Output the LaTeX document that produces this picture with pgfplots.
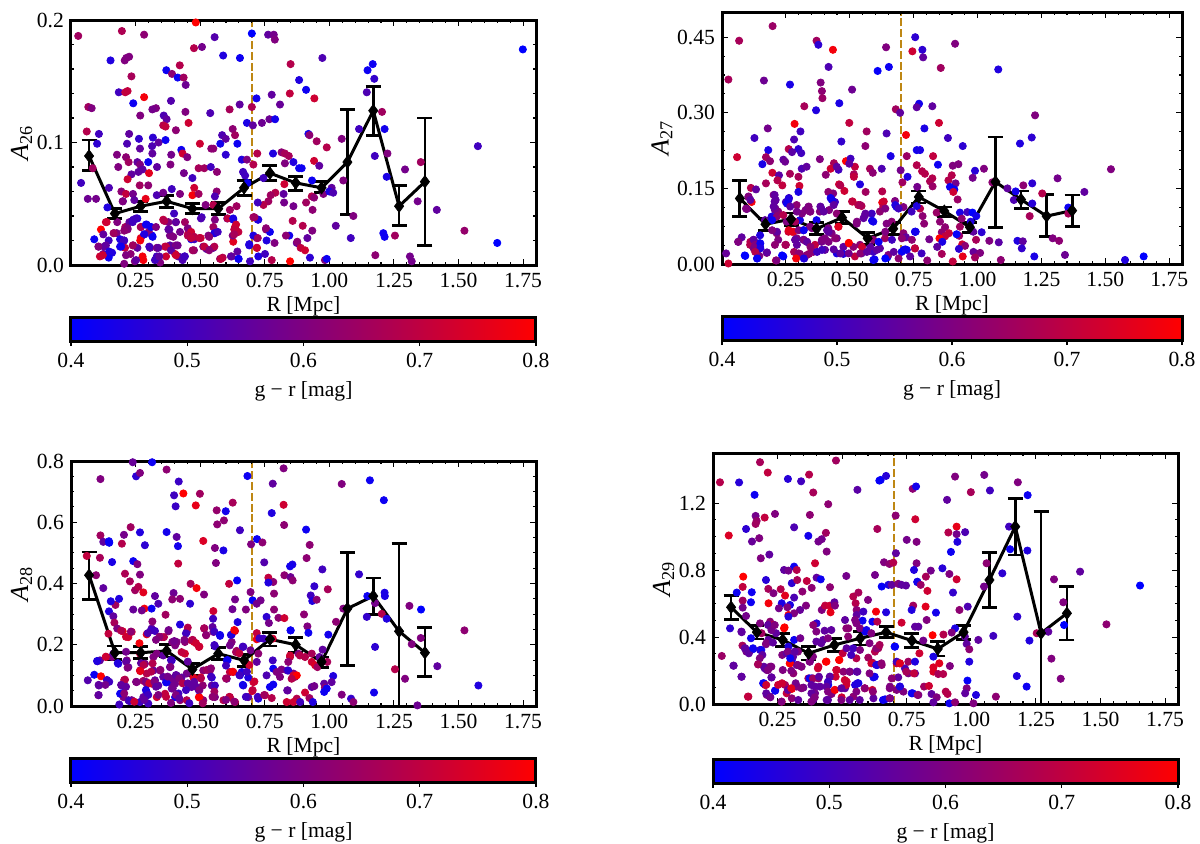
\documentclass[border=0pt]{standalone}
\usepackage{fontspec}
\usepackage{pgfplots}
\usepackage{pgfplotstable}
\pgfplotsset{compat=1.18}
\setmainfont{Liberation Serif}
\definecolor{dline}{RGB}{190,135,20}
\newcommand{\lblfont}{\fontsize{10.8}{12}\selectfont}

% scatter points: R, A, g-r
\pgfplotstableread{
R A c
0.028 0.187 0.65
0.197 0.191 0.67
0.283 0.188 0.62
0.483 0.198 0.80
0.556 0.186 0.53
0.476 0.177 0.68
0.507 0.178 0.58
0.589 0.171 0.45
0.654 0.169 0.42
0.700 0.189 0.40
0.763 0.188 0.55
0.785 0.188 0.58
0.789 0.184 0.60
0.850 0.164 0.68
0.883 0.151 0.45
0.153 0.167 0.45
0.208 0.167 0.60
0.225 0.170 0.60
0.214 0.169 0.60
0.234 0.154 0.66
0.185 0.141 0.50
0.210 0.141 0.70
0.219 0.142 0.70
0.241 0.132 0.42
0.283 0.137 0.78
0.369 0.159 0.42
0.391 0.156 0.62
0.413 0.153 0.42
0.421 0.163 0.68
0.436 0.153 0.65
0.444 0.147 0.57
0.387 0.134 0.53
0.443 0.125 0.60
0.539 0.124 0.52
0.614 0.127 0.66
0.653 0.131 0.55
0.718 0.136 0.43
0.777 0.139 0.55
0.809 0.131 0.56
0.847 0.140 0.70
0.700 0.129 0.67
0.681 0.116 0.44
0.704 0.114 0.55
0.739 0.116 0.57
0.768 0.119 0.57
0.790 0.119 0.43
0.067 0.129 0.65
0.080 0.128 0.60
0.108 0.107 0.50
0.061 0.109 0.68
0.101 0.099 0.47
0.039 0.067 0.50
0.065 0.054 0.57
0.097 0.054 0.58
0.084 0.079 0.65
0.147 0.063 0.52
0.178 0.090 0.60
0.141 0.047 0.45
0.225 0.107 0.55
0.217 0.099 0.52
0.213 0.088 0.62
0.223 0.084 0.65
0.263 0.103 0.48
0.267 0.095 0.55
0.317 0.104 0.47
0.339 0.100 0.55
0.314 0.097 0.52
0.315 0.091 0.55
0.299 0.084 0.42
0.257 0.084 0.55
0.267 0.082 0.60
0.183 0.080 0.60
0.234 0.074 0.55
0.219 0.070 0.72
0.261 0.076 0.55
0.277 0.078 0.55
0.302 0.075 0.75
0.333 0.080 0.55
0.266 0.065 0.65
0.299 0.065 0.62
0.195 0.060 0.62
0.213 0.058 0.70
0.240 0.058 0.58
0.201 0.052 0.55
0.289 0.054 0.76
0.332 0.057 0.52
0.357 0.059 0.58
0.390 0.062 0.50
0.385 0.082 0.60
0.388 0.090 0.58
0.366 0.102 0.42
0.359 0.122 0.52
0.370 0.119 0.55
0.329 0.128 0.60
0.315 0.127 0.58
0.268 0.122 0.60
0.357 0.114 0.68
0.366 0.113 0.70
0.406 0.110 0.62
0.455 0.116 0.72
0.427 0.094 0.42
0.432 0.091 0.72
0.450 0.088 0.60
0.437 0.075 0.58
0.499 0.099 0.72
0.494 0.079 0.66
0.516 0.079 0.65
0.470 0.071 0.50
0.477 0.063 0.72
0.470 0.057 0.78
0.422 0.058 0.60
0.494 0.058 0.65
0.541 0.080 0.50
0.565 0.076 0.62
0.543 0.095 0.62
0.551 0.095 0.62
0.578 0.099 0.43
0.585 0.106 0.52
0.599 0.103 0.55
0.599 0.090 0.47
0.626 0.111 0.62
0.635 0.106 0.65
0.644 0.099 0.42
0.661 0.086 0.45
0.681 0.086 0.60
0.666 0.076 0.50
0.674 0.073 0.50
0.706 0.082 0.68
0.683 0.067 0.42
0.564 0.060 0.62
0.557 0.056 0.52
0.641 0.048 0.65
0.615 0.045 0.65
0.521 0.049 0.60
0.551 0.049 0.68
0.721 0.091 0.68
0.782 0.091 0.45
0.815 0.092 0.62
0.828 0.091 0.66
0.843 0.089 0.66
0.861 0.084 0.45
0.883 0.079 0.42
0.828 0.083 0.60
0.745 0.071 0.50
0.826 0.066 0.72
0.791 0.059 0.68
0.773 0.057 0.65
0.823 0.058 0.55
0.764 0.052 0.65
0.745 0.049 0.68
0.723 0.051 0.50
0.825 0.051 0.58
0.861 0.048 0.58
0.138 0.035 0.72
0.116 0.029 0.80
0.090 0.021 0.42
0.125 0.025 0.55
0.146 0.020 0.50
0.107 0.015 0.60
0.135 0.016 0.55
0.159 0.010 0.45
0.112 0.007 0.72
0.146 0.006 0.42
0.125 0.009 0.58
0.166 0.026 0.60
0.177 0.026 0.60
0.190 0.021 0.45
0.205 0.020 0.55
0.209 0.014 0.70
0.190 0.015 0.45
0.219 0.029 0.62
0.210 0.031 0.65
0.179 0.035 0.60
0.226 0.035 0.55
0.257 0.038 0.45
0.241 0.037 0.50
0.270 0.031 0.68
0.270 0.022 0.75
0.293 0.033 0.45
0.308 0.031 0.43
0.314 0.024 0.42
0.283 0.025 0.45
0.301 0.027 0.60
0.241 0.016 0.60
0.257 0.014 0.55
0.280 0.004 0.78
0.306 0.014 0.55
0.231 0.009 0.62
0.213 0.008 0.60
0.332 0.014 0.60
0.332 0.007 0.50
0.357 0.037 0.70
0.377 0.035 0.60
0.406 0.035 0.62
0.399 0.042 0.50
0.377 0.029 0.55
0.396 0.023 0.60
0.383 0.024 0.58
0.422 0.027 0.58
0.441 0.035 0.65
0.454 0.026 0.70
0.467 0.024 0.72
0.465 0.021 0.43
0.477 0.021 0.50
0.506 0.039 0.50
0.502 0.022 0.72
0.532 0.024 0.60
0.557 0.037 0.60
0.557 0.026 0.50
0.551 0.031 0.65
0.512 0.015 0.60
0.551 0.014 0.55
0.525 0.013 0.55
0.476 0.012 0.62
0.364 0.015 0.70
0.383 0.016 0.55
0.406 0.016 0.60
0.403 0.009 0.72
0.368 0.007 0.72
0.441 0.007 0.50
0.415 0.007 0.55
0.432 0.004 0.52
0.345 0.002 0.60
0.325 0.004 0.50
0.577 0.005 0.65
0.587 0.006 0.68
0.622 0.007 0.62
0.648 0.005 0.42
0.644 0.011 0.55
0.628 0.019 0.75
0.605 0.038 0.50
0.628 0.037 0.44
0.635 0.031 0.72
0.648 0.027 0.70
0.626 0.024 0.60
0.690 0.017 0.45
0.719 0.014 0.75
0.719 0.022 0.65
0.706 0.024 0.45
0.725 0.037 0.45
0.706 0.039 0.65
0.755 0.029 0.62
0.770 0.027 0.42
0.757 0.020 0.45
0.788 0.018 0.60
0.725 0.007 0.45
0.751 0.009 0.50
0.777 0.004 0.68
0.848 0.003 0.80
0.693 0.003 0.50
0.858 0.036 0.68
0.845 0.024 0.43
0.832 0.024 0.62
0.874 0.018 0.55
0.247 0.003 0.60
0.910 0.143 0.42
0.942 0.136 0.72
0.973 0.169 0.52
0.919 0.107 0.42
0.923 0.106 0.62
0.951 0.101 0.65
0.990 0.096 0.68
0.941 0.085 0.72
0.961 0.081 0.55
0.893 0.079 0.42
0.933 0.069 0.42
0.910 0.051 0.65
0.932 0.056 0.68
0.941 0.055 0.62
0.935 0.045 0.62
0.897 0.032 0.68
0.934 0.028 0.60
0.915 0.022 0.55
0.876 0.019 0.62
0.889 0.014 0.70
0.906 0.012 0.72
0.925 0.006 0.47
0.983 0.004 0.60
0.990 0.005 0.42
1.054 0.069 0.60
0.977 0.058 0.60
1.009 0.063 0.55
1.000 0.060 0.45
1.015 0.059 0.52
1.025 0.032 0.55
1.093 0.040 0.60
1.083 0.022 0.50
1.048 0.103 0.60
1.115 0.111 0.50
1.145 0.141 0.52
1.148 0.159 0.42
1.168 0.164 0.42
1.174 0.152 0.48
1.204 0.125 0.65
1.214 0.111 0.43
1.176 0.089 0.50
1.225 0.091 0.60
1.222 0.072 0.44
1.209 0.026 0.42
1.214 0.023 0.42
1.254 0.024 0.65
1.178 0.008 0.62
1.293 0.078 0.58
1.354 0.084 0.65
1.342 0.052 0.58
1.416 0.045 0.55
1.523 0.028 0.63
1.575 0.097 0.50
1.650 0.018 0.40
1.749 0.176 0.40
1.312 0.007 0.58
1.319 0.003 0.58
0.200 0.052 0.60
0.245 0.053 0.55
0.135 0.035 0.72
0.165 0.026 0.65
0.219 0.030 0.60
0.206 0.028 0.62
0.252 0.038 0.50
0.239 0.035 0.50
0.271 0.031 0.66
0.290 0.033 0.42
0.310 0.031 0.42
0.316 0.023 0.42
0.284 0.025 0.45
0.268 0.020 0.78
0.329 0.031 0.60
0.361 0.036 0.68
0.387 0.024 0.60
0.381 0.029 0.55
0.406 0.035 0.55
0.452 0.030 0.60
0.465 0.027 0.72
0.477 0.023 0.68
0.503 0.038 0.52
0.555 0.026 0.45
0.568 0.027 0.50
0.606 0.038 0.70
0.628 0.038 0.44
0.639 0.033 0.72
0.632 0.029 0.70
0.632 0.025 0.66
0.129 0.015 0.55
0.106 0.015 0.60
0.206 0.020 0.50
0.194 0.015 0.42
0.148 0.011 0.45
0.123 0.008 0.72
0.239 0.016 0.65
0.303 0.015 0.50
0.338 0.014 0.55
0.368 0.015 0.70
0.413 0.016 0.58
0.387 0.012 0.55
0.342 0.007 0.55
0.406 0.008 0.72
0.439 0.007 0.50
0.471 0.012 0.65
0.516 0.015 0.70
0.555 0.015 0.68
0.535 0.012 0.62
0.581 0.005 0.70
0.619 0.007 0.55
0.649 0.005 0.42
0.690 0.016 0.45
0.720 0.014 0.72
0.723 0.022 0.65
0.755 0.030 0.62
0.723 0.037 0.45
0.710 0.039 0.65
0.452 0.024 0.68
0.465 0.022 0.70
0.497 0.022 0.70
0.535 0.023 0.62
0.277 0.007 0.78
0.252 0.004 0.55
0.206 0.001 0.60
}\scatterA

\pgfplotstableread{
R A c
0.025 0.366 0.66
0.067 0.443 0.66
0.198 0.472 0.64
0.164 0.364 0.57
0.370 0.443 0.65
0.377 0.435 0.47
0.434 0.425 0.78
0.417 0.391 0.52
0.386 0.360 0.60
0.391 0.343 0.62
0.393 0.329 0.64
0.266 0.356 0.44
0.509 0.346 0.57
0.459 0.319 0.44
0.368 0.305 0.45
0.322 0.313 0.66
0.609 0.383 0.41
0.653 0.391 0.42
0.642 0.430 0.60
0.680 0.307 0.65
0.697 0.300 0.55
0.756 0.450 0.47
0.745 0.422 0.72
0.127 0.250 0.50
0.179 0.269 0.58
0.284 0.278 0.78
0.307 0.263 0.50
0.282 0.247 0.52
0.261 0.228 0.68
0.299 0.228 0.47
0.181 0.226 0.44
0.274 0.222 0.54
0.310 0.220 0.50
0.059 0.212 0.72
0.172 0.212 0.65
0.188 0.204 0.62
0.158 0.198 0.44
0.240 0.207 0.55
0.247 0.203 0.57
0.498 0.280 0.70
0.566 0.263 0.65
0.644 0.259 0.52
0.720 0.256 0.78
0.561 0.234 0.62
0.467 0.243 0.48
0.660 0.214 0.44
0.723 0.214 0.64
0.762 0.226 0.43
0.485 0.204 0.80
0.503 0.209 0.50
0.383 0.208 0.60
0.438 0.200 0.66
0.425 0.189 0.72
0.456 0.187 0.50
0.449 0.193 0.55
0.520 0.193 0.70
0.498 0.199 0.55
0.579 0.189 0.66
0.590 0.181 0.62
0.625 0.189 0.52
0.699 0.186 0.58
0.762 0.196 0.68
0.406 0.177 0.62
0.312 0.189 0.52
0.331 0.193 0.55
0.266 0.179 0.66
0.299 0.173 0.66
0.303 0.155 0.72
0.197 0.181 0.72
0.223 0.176 0.54
0.172 0.160 0.66
0.217 0.166 0.68
0.236 0.156 0.70
0.479 0.145 0.72
0.458 0.158 0.72
0.463 0.156 0.68
0.516 0.178 0.66
0.516 0.173 0.70
0.540 0.158 0.45
0.706 0.162 0.65
0.726 0.173 0.45
0.113 0.151 0.68
0.133 0.148 0.55
0.103 0.133 0.60
0.116 0.123 0.78
0.097 0.109 0.58
0.299 0.143 0.44
0.435 0.140 0.60
0.416 0.143 0.62
0.425 0.131 0.43
0.442 0.123 0.50
0.511 0.124 0.74
0.562 0.143 0.65
0.627 0.144 0.68
0.533 0.117 0.68
0.546 0.115 0.68
0.202 0.137 0.60
0.210 0.127 0.55
0.260 0.127 0.47
0.250 0.123 0.50
0.262 0.131 0.52
0.292 0.117 0.62
0.327 0.107 0.60
0.338 0.113 0.55
0.344 0.104 0.62
0.387 0.112 0.52
0.383 0.104 0.60
0.419 0.107 0.60
0.449 0.100 0.62
0.627 0.122 0.78
0.631 0.113 0.68
0.618 0.104 0.62
0.677 0.125 0.60
0.683 0.113 0.43
0.710 0.113 0.60
0.207 0.107 0.55
0.220 0.104 0.62
0.194 0.094 0.45
0.168 0.087 0.55
0.214 0.094 0.62
0.240 0.097 0.68
0.305 0.087 0.44
0.370 0.087 0.43
0.286 0.084 0.66
0.253 0.084 0.60
0.455 0.074 0.72
0.416 0.071 0.60
0.344 0.074 0.60
0.318 0.067 0.52
0.279 0.064 0.77
0.260 0.064 0.72
0.214 0.061 0.62
0.220 0.048 0.60
0.207 0.038 0.62
0.149 0.057 0.45
0.146 0.041 0.44
0.123 0.048 0.55
0.064 0.044 0.55
0.077 0.053 0.55
0.110 0.038 0.68
0.136 0.024 0.70
0.149 0.034 0.45
0.175 0.022 0.62
0.146 0.016 0.60
0.138 0.011 0.42
0.091 0.016 0.40
0.016 0.021 0.56
0.025 0.001 0.72
0.240 0.015 0.41
0.211 0.007 0.70
0.286 0.048 0.55
0.292 0.051 0.60
0.318 0.048 0.50
0.331 0.044 0.55
0.250 0.038 0.66
0.282 0.024 0.66
0.305 0.020 0.60
0.322 0.011 0.50
0.340 0.020 0.66
0.364 0.038 0.70
0.357 0.024 0.62
0.390 0.044 0.58
0.403 0.051 0.60
0.403 0.028 0.55
0.449 0.051 0.58
0.429 0.061 0.60
0.475 0.034 0.55
0.497 0.041 0.78
0.514 0.034 0.62
0.449 0.021 0.44
0.475 0.020 0.45
0.520 0.015 0.70
0.540 0.038 0.62
0.546 0.021 0.55
0.592 0.048 0.62
0.592 0.084 0.43
0.592 0.024 0.50
0.618 0.031 0.55
0.592 0.008 0.42
0.647 0.013 0.41
0.651 0.018 0.60
0.638 0.051 0.65
0.664 0.084 0.62
0.710 0.061 0.62
0.720 0.053 0.55
0.755 0.064 0.43
0.755 0.031 0.65
0.723 0.028 0.42
0.703 0.024 0.42
0.736 0.015 0.55
0.586 0.100 0.50
0.527 0.080 0.60
0.560 0.097 0.55
0.644 0.080 0.60
0.784 0.425 0.47
0.787 0.410 0.55
0.912 0.437 0.60
0.856 0.389 0.65
1.081 0.386 0.45
0.823 0.313 0.55
0.771 0.318 0.43
1.225 0.295 0.60
0.762 0.311 0.55
0.849 0.280 0.72
0.792 0.269 0.44
0.884 0.250 0.50
0.942 0.234 0.47
1.212 0.251 0.47
1.166 0.239 0.45
0.775 0.226 0.44
0.826 0.214 0.70
0.845 0.197 0.42
0.903 0.195 0.60
0.925 0.198 0.60
0.990 0.185 0.46
1.025 0.189 0.60
1.522 0.188 0.60
0.783 0.184 0.68
0.794 0.179 0.68
0.823 0.170 0.68
0.814 0.164 0.67
0.824 0.154 0.64
0.899 0.176 0.68
0.886 0.166 0.68
0.914 0.160 0.58
0.981 0.171 0.58
0.764 0.153 0.58
0.892 0.153 0.42
0.909 0.148 0.41
0.905 0.143 0.72
1.313 0.170 0.58
1.117 0.150 0.55
1.058 0.162 0.62
1.179 0.156 0.62
1.214 0.160 0.47
1.149 0.144 0.43
1.142 0.127 0.52
1.418 0.143 0.55
1.253 0.140 0.68
1.214 0.120 0.46
0.922 0.128 0.64
1.355 0.112 0.42
1.355 0.100 0.66
0.775 0.110 0.68
0.762 0.115 0.45
0.742 0.104 0.50
0.785 0.095 0.62
0.840 0.102 0.64
0.853 0.084 0.62
0.791 0.080 0.62
0.873 0.073 0.62
0.860 0.063 0.62
0.888 0.061 0.70
0.873 0.055 0.70
0.931 0.102 0.44
0.960 0.103 0.50
0.980 0.102 0.40
0.995 0.095 0.43
0.938 0.090 0.62
0.931 0.074 0.65
0.973 0.084 0.45
0.983 0.064 0.55
1.016 0.063 0.47
0.928 0.056 0.64
0.918 0.059 0.41
1.204 0.095 0.66
0.758 0.064 0.45
0.811 0.049 0.58
0.851 0.051 0.80
0.862 0.044 0.44
0.842 0.034 0.55
0.994 0.048 0.66
1.046 0.046 0.60
1.083 0.043 0.54
1.156 0.046 0.45
1.177 0.045 0.55
1.173 0.031 0.48
1.294 0.051 0.60
1.319 0.046 0.62
0.940 0.039 0.72
0.951 0.036 0.62
0.927 0.030 0.47
0.984 0.024 0.56
1.010 0.022 0.60
0.942 0.015 0.76
0.860 0.020 0.66
0.755 0.031 0.70
0.781 0.021 0.50
0.803 0.007 0.62
1.091 0.008 0.62
1.222 0.015 0.44
1.342 0.018 0.57
1.577 0.008 0.45
1.650 0.015 0.40
0.903 0.005 0.70
0.990 0.013 0.65
0.063 0.044 0.60
0.089 0.017 0.40
0.111 0.044 0.68
0.124 0.048 0.55
0.130 0.038 0.60
0.150 0.041 0.42
0.124 0.031 0.60
0.150 0.031 0.45
0.130 0.024 0.68
0.137 0.011 0.42
0.176 0.023 0.55
0.235 0.017 0.40
0.213 0.007 0.60
0.206 0.137 0.55
0.206 0.124 0.55
0.209 0.110 0.58
0.202 0.114 0.55
0.104 0.134 0.60
0.111 0.127 0.55
0.094 0.110 0.60
0.196 0.087 0.42
0.215 0.064 0.55
0.196 0.067 0.60
0.261 0.130 0.45
0.254 0.120 0.42
0.267 0.114 0.55
0.313 0.100 0.60
0.293 0.104 0.58
0.339 0.114 0.60
0.346 0.104 0.60
0.385 0.114 0.55
0.398 0.104 0.55
0.430 0.127 0.43
0.437 0.117 0.55
0.509 0.124 0.70
0.541 0.117 0.66
0.561 0.100 0.55
0.554 0.091 0.55
0.528 0.084 0.60
0.587 0.086 0.43
0.633 0.124 0.72
0.639 0.110 0.60
0.678 0.117 0.45
0.691 0.110 0.50
0.261 0.067 0.75
0.274 0.064 0.75
0.300 0.067 0.60
0.320 0.067 0.42
0.352 0.071 0.60
0.411 0.067 0.55
0.456 0.074 0.75
0.248 0.038 0.66
0.287 0.048 0.55
0.320 0.048 0.60
0.333 0.044 0.55
0.293 0.038 0.55
0.346 0.034 0.62
0.391 0.048 0.60
0.417 0.064 0.55
0.417 0.044 0.60
0.443 0.051 0.62
0.496 0.042 0.80
0.548 0.034 0.72
0.580 0.034 0.55
0.613 0.044 0.42
0.639 0.064 0.60
0.665 0.048 0.50
0.704 0.051 0.62
0.743 0.048 0.62
0.756 0.064 0.43
0.711 0.028 0.40
0.717 0.029 0.42
0.639 0.011 0.40
0.597 0.009 0.42
0.496 0.021 0.58
0.463 0.021 0.55
0.437 0.029 0.55
0.391 0.028 0.50
0.372 0.024 0.50
0.333 0.018 0.62
0.300 0.021 0.62
0.320 0.011 0.45
0.290 0.011 0.78
0.541 0.021 0.62
0.567 0.024 0.55
0.606 0.028 0.55
0.672 0.024 0.55
0.691 0.011 0.62
}\scatterB

\pgfplotstableread{
R A c
0.065 0.084 0.53
0.090 0.102 0.42
0.116 0.097 0.80
0.108 0.067 0.55
0.106 0.035 0.60
0.061 0.490 0.70
0.097 0.427 0.62
0.112 0.484 0.66
0.114 0.741 0.60
0.114 0.557 0.65
0.125 0.536 0.55
0.147 0.538 0.42
0.148 0.533 0.41
0.159 0.470 0.44
0.125 0.385 0.55
0.172 0.330 0.65
0.154 0.342 0.45
0.186 0.350 0.45
0.147 0.309 0.45
0.164 0.293 0.55
0.168 0.272 0.66
0.179 0.253 0.60
0.145 0.236 0.70
0.102 0.146 0.50
0.112 0.149 0.55
0.135 0.160 0.72
0.159 0.160 0.60
0.183 0.138 0.45
0.164 0.171 0.55
0.197 0.530 0.68
0.205 0.559 0.58
0.231 0.584 0.65
0.252 0.750 0.47
0.267 0.761 0.60
0.239 0.796 0.56
0.314 0.796 0.42
0.267 0.567 0.45
0.286 0.525 0.47
0.241 0.473 0.42
0.257 0.463 0.60
0.209 0.432 0.67
0.228 0.407 0.66
0.267 0.429 0.60
0.248 0.378 0.65
0.261 0.389 0.68
0.280 0.371 0.75
0.325 0.359 0.55
0.338 0.334 0.52
0.241 0.315 0.56
0.284 0.318 0.78
0.274 0.312 0.58
0.312 0.318 0.42
0.366 0.298 0.65
0.370 0.568 0.43
0.370 0.772 0.62
0.417 0.733 0.49
0.399 0.688 0.50
0.405 0.652 0.49
0.435 0.694 0.80
0.499 0.693 0.65
0.483 0.655 0.76
0.409 0.552 0.55
0.414 0.522 0.43
0.512 0.539 0.74
0.415 0.465 0.70
0.463 0.399 0.66
0.486 0.385 0.78
0.397 0.369 0.57
0.392 0.348 0.62
0.422 0.350 0.62
0.461 0.334 0.47
0.515 0.364 0.60
0.557 0.516 0.60
0.561 0.467 0.60
0.564 0.639 0.63
0.566 0.593 0.62
0.599 0.636 0.43
0.592 0.606 0.62
0.626 0.664 0.66
0.654 0.574 0.50
0.590 0.508 0.44
0.612 0.399 0.70
0.643 0.410 0.41
0.635 0.348 0.58
0.625 0.316 0.57
0.677 0.315 0.60
0.645 0.274 0.45
0.551 0.310 0.72
0.550 0.285 0.50
0.683 0.751 0.42
0.697 0.528 0.60
0.720 0.545 0.42
0.741 0.534 0.62
0.748 0.469 0.53
0.695 0.372 0.60
0.703 0.345 0.41
0.719 0.334 0.58
0.734 0.345 0.58
0.786 0.367 0.62
0.764 0.419 0.70
0.783 0.405 0.62
0.764 0.403 0.45
0.781 0.726 0.55
0.823 0.776 0.60
0.823 0.657 0.72
0.777 0.630 0.45
0.825 0.591 0.62
0.826 0.427 0.62
0.857 0.462 0.44
0.848 0.456 0.43
0.850 0.421 0.57
0.858 0.410 0.62
0.786 0.315 0.62
0.757 0.291 0.47
0.766 0.271 0.58
0.803 0.288 0.62
0.826 0.287 0.72
0.850 0.247 0.44
0.719 0.238 0.70
0.200 0.244 0.75
0.222 0.225 0.73
0.235 0.242 0.72
0.293 0.234 0.75
0.312 0.253 0.55
0.325 0.245 0.50
0.315 0.276 0.62
0.351 0.225 0.65
0.360 0.225 0.68
0.377 0.244 0.62
0.392 0.209 0.60
0.409 0.209 0.60
0.422 0.266 0.45
0.441 0.209 0.62
0.448 0.242 0.55
0.452 0.256 0.68
0.467 0.214 0.70
0.477 0.209 0.75
0.495 0.193 0.72
0.515 0.253 0.65
0.523 0.231 0.65
0.551 0.242 0.60
0.548 0.258 0.55
0.577 0.229 0.43
0.557 0.195 0.50
0.622 0.233 0.44
0.635 0.245 0.74
0.622 0.209 0.60
0.641 0.180 0.65
0.667 0.193 0.50
0.615 0.198 0.58
0.719 0.218 0.78
0.745 0.220 0.50
0.781 0.220 0.72
0.719 0.144 0.55
0.725 0.171 0.62
0.695 0.182 0.58
0.781 0.149 0.50
0.783 0.122 0.42
0.757 0.100 0.52
0.796 0.111 0.60
0.815 0.119 0.60
0.809 0.095 0.60
0.837 0.116 0.55
0.861 0.106 0.60
0.848 0.160 0.68
0.880 0.171 0.60
0.867 0.095 0.65
0.770 0.062 0.42
0.783 0.070 0.42
0.839 0.051 0.55
0.751 0.035 0.72
0.777 0.026 0.68
0.725 0.024 0.44
0.686 0.029 0.55
0.706 0.078 0.72
0.686 0.093 0.45
0.702 0.049 0.75
0.667 0.067 0.48
0.654 0.100 0.42
0.661 0.111 0.45
0.628 0.111 0.72
0.603 0.149 0.45
0.615 0.111 0.70
0.603 0.089 0.58
0.538 0.116 0.62
0.512 0.116 0.62
0.545 0.093 0.45
0.510 0.067 0.62
0.545 0.067 0.55
0.557 0.067 0.50
0.615 0.029 0.68
0.590 0.019 0.68
0.557 0.029 0.60
0.502 0.093 0.75
0.474 0.093 0.75
0.495 0.029 0.80
0.495 0.051 0.50
0.467 0.062 0.55
0.448 0.106 0.58
0.428 0.093 0.55
0.409 0.100 0.55
0.383 0.078 0.55
0.390 0.057 0.55
0.364 0.040 0.70
0.370 0.078 0.42
0.357 0.095 0.55
0.345 0.116 0.60
0.325 0.084 0.55
0.319 0.116 0.57
0.293 0.106 0.68
0.280 0.082 0.65
0.254 0.078 0.60
0.209 0.086 0.68
0.222 0.127 0.55
0.216 0.149 0.60
0.267 0.171 0.70
0.267 0.116 0.70
0.286 0.138 0.60
0.319 0.160 0.60
0.332 0.171 0.60
0.357 0.165 0.55
0.383 0.127 0.55
0.390 0.149 0.47
0.441 0.171 0.72
0.428 0.176 0.70
0.403 0.198 0.60
0.196 0.067 0.55
0.209 0.062 0.50
0.190 0.040 0.42
0.203 0.029 0.60
0.222 0.019 0.55
0.235 0.019 0.58
0.267 0.013 0.50
0.293 0.046 0.44
0.280 0.029 0.55
0.299 0.008 0.50
0.332 0.029 0.72
0.403 0.029 0.43
0.422 0.019 0.62
0.403 0.073 0.58
0.416 0.041 0.50
0.448 0.019 0.68
0.512 0.019 0.62
0.635 0.013 0.68
0.312 0.073 0.72
0.338 0.067 0.55
0.293 0.073 0.62
1.048 0.725 0.60
1.157 0.737 0.42
1.211 0.672 0.42
0.910 0.576 0.42
0.924 0.526 0.62
0.912 0.483 0.62
0.973 0.446 0.50
1.115 0.430 0.48
0.942 0.391 0.48
0.994 0.381 0.66
0.928 0.361 0.50
0.934 0.343 0.45
0.951 0.347 0.62
1.214 0.370 0.44
1.215 0.359 0.44
1.147 0.359 0.42
1.177 0.336 0.58
1.054 0.318 0.60
1.310 0.327 0.60
1.355 0.315 0.40
0.902 0.299 0.62
1.203 0.301 0.68
1.145 0.291 0.48
1.222 0.285 0.45
1.026 0.275 0.62
0.915 0.260 0.60
0.850 0.247 0.42
0.919 0.239 0.42
0.996 0.233 0.43
1.523 0.247 0.62
1.354 0.222 0.60
1.319 0.202 0.60
1.177 0.193 0.47
0.974 0.184 0.55
0.932 0.171 0.66
0.886 0.165 0.68
0.906 0.160 0.68
0.848 0.165 0.72
0.962 0.160 0.55
0.992 0.144 0.66
0.841 0.144 0.62
0.932 0.144 0.72
0.945 0.133 0.74
0.954 0.127 0.65
1.254 0.120 0.68
1.418 0.130 0.55
0.841 0.116 0.47
0.861 0.100 0.72
0.874 0.100 0.80
0.854 0.089 0.68
1.015 0.098 0.45
1.293 0.089 0.60
1.009 0.078 0.55
0.932 0.062 0.55
0.942 0.065 0.58
0.980 0.073 0.55
0.983 0.060 0.62
0.990 0.057 0.42
0.980 0.046 0.42
0.837 0.051 0.55
0.906 0.044 0.72
0.923 0.026 0.65
1.048 0.037 0.60
1.084 0.024 0.48
1.093 0.013 0.62
1.173 0.044 0.43
1.577 0.067 0.45
1.341 0.002 0.57
0.874 0.024 0.68
0.861 0.013 0.72
0.835 0.013 0.72
0.936 0.013 0.45
0.887 0.013 0.50
0.194 0.246 0.68
0.213 0.226 0.72
0.232 0.243 0.62
0.310 0.248 0.50
0.297 0.238 0.52
0.378 0.248 0.58
0.342 0.226 0.62
0.329 0.216 0.60
0.400 0.212 0.58
0.445 0.237 0.50
0.439 0.216 0.60
0.471 0.216 0.68
0.484 0.205 0.72
0.497 0.194 0.72
0.516 0.254 0.66
0.523 0.232 0.62
0.555 0.199 0.50
0.555 0.243 0.50
0.577 0.232 0.43
0.619 0.232 0.45
0.632 0.248 0.78
0.639 0.176 0.66
0.652 0.172 0.70
0.665 0.194 0.50
0.729 0.221 0.50
0.265 0.205 0.78
0.135 0.161 0.72
0.101 0.147 0.45
0.181 0.140 0.45
0.213 0.145 0.55
0.219 0.125 0.60
0.213 0.177 0.58
0.271 0.140 0.55
0.281 0.134 0.68
0.316 0.139 0.68
0.310 0.112 0.68
0.268 0.114 0.76
0.346 0.118 0.62
0.387 0.150 0.50
0.385 0.128 0.60
0.452 0.145 0.55
0.526 0.118 0.65
0.542 0.123 0.62
0.606 0.150 0.42
0.600 0.132 0.50
0.626 0.112 0.78
0.652 0.101 0.50
0.681 0.112 0.50
0.690 0.134 0.72
0.542 0.096 0.50
0.600 0.090 0.65
0.665 0.069 0.43
0.710 0.080 0.72
0.703 0.052 0.70
0.139 0.085 0.50
0.148 0.079 0.50
0.133 0.069 0.58
0.107 0.069 0.55
0.107 0.036 0.55
0.206 0.085 0.68
0.194 0.069 0.55
0.213 0.063 0.55
0.194 0.041 0.42
0.206 0.041 0.62
0.252 0.079 0.60
0.290 0.079 0.60
0.303 0.074 0.72
0.323 0.079 0.60
0.329 0.063 0.55
0.338 0.036 0.60
0.290 0.052 0.45
0.299 0.036 0.50
0.368 0.077 0.42
0.374 0.096 0.58
0.394 0.090 0.58
0.406 0.101 0.55
0.419 0.090 0.60
0.432 0.074 0.68
0.452 0.074 0.55
0.477 0.079 0.55
0.484 0.063 0.55
0.503 0.090 0.68
0.445 0.052 0.50
0.497 0.052 0.60
0.497 0.028 0.80
0.406 0.036 0.60
0.368 0.030 0.70
0.419 0.025 0.55
0.394 0.058 0.58
0.555 0.047 0.65
0.548 0.030 0.62
0.613 0.030 0.70
0.600 0.020 0.60
0.632 0.014 0.62
0.677 0.030 0.50
0.723 0.030 0.50
0.748 0.036 0.65
0.226 0.016 0.50
0.245 0.014 0.72
0.284 0.020 0.55
0.187 0.005 0.50
0.387 0.010 0.60
0.458 0.009 0.50
0.510 0.009 0.65
}\scatterC

\pgfplotstableread{
R A c
0.027 1.325 0.68
0.182 1.445 0.66
0.212 1.383 0.70
0.101 1.324 0.46
0.290 1.345 0.46
0.341 1.331 0.50
0.372 1.371 0.68
0.388 1.264 0.66
0.476 1.455 0.65
0.559 1.280 0.54
0.446 1.194 0.62
0.161 1.250 0.42
0.240 1.136 0.60
0.165 1.124 0.58
0.200 1.114 0.70
0.169 1.094 0.63
0.165 1.076 0.65
0.128 1.046 0.47
0.314 1.056 0.52
0.375 1.130 0.62
0.061 1.007 0.74
0.369 1.005 0.43
0.179 0.991 0.60
0.151 0.971 0.56
0.437 1.023 0.65
0.421 0.985 0.58
0.408 0.971 0.58
0.440 0.911 0.60
0.218 0.893 0.55
0.185 0.871 0.60
0.644 1.335 0.41
0.649 1.339 0.41
0.670 1.363 0.46
0.636 1.046 0.66
0.707 1.126 0.62
0.708 0.901 0.55
0.627 0.771 0.58
0.662 0.847 0.60
0.683 0.837 0.62
0.698 0.845 0.68
0.773 1.286 0.62
0.786 1.300 0.43
0.783 1.104 0.72
0.750 0.981 0.58
0.788 0.969 0.60
0.788 0.841 0.60
0.778 0.801 0.45
0.395 0.841 0.72
0.314 0.821 0.42
0.275 0.801 0.55
0.292 0.797 0.58
0.324 0.801 0.68
0.205 0.741 0.46
0.516 0.765 0.58
0.401 0.755 0.55
0.417 0.745 0.42
0.117 0.761 0.80
0.115 0.700 0.70
0.092 0.666 0.42
0.150 0.668 0.42
0.214 0.688 0.66
0.234 0.662 0.60
0.262 0.686 0.68
0.279 0.648 0.75
0.305 0.722 0.47
0.326 0.741 0.66
0.363 0.735 0.70
0.346 0.672 0.62
0.382 0.694 0.62
0.453 0.698 0.62
0.314 0.636 0.52
0.115 0.618 0.65
0.147 0.608 0.42
0.115 0.576 0.58
0.215 0.602 0.78
0.266 0.602 0.44
0.255 0.572 0.58
0.298 0.592 0.44
0.288 0.578 0.60
0.292 0.532 0.78
0.360 0.588 0.60
0.337 0.562 0.56
0.314 0.542 0.60
0.292 0.522 0.46
0.128 0.526 0.58
0.421 0.562 0.60
0.434 0.588 0.70
0.453 0.588 0.72
0.470 0.608 0.55
0.472 0.588 0.60
0.455 0.548 0.76
0.543 0.642 0.68
0.552 0.602 0.68
0.563 0.666 0.66
0.556 0.562 0.62
0.556 0.532 0.55
0.582 0.552 0.50
0.600 0.622 0.60
0.631 0.552 0.78
0.670 0.548 0.45
0.617 0.492 0.42
0.579 0.498 0.42
0.636 0.492 0.68
0.588 0.433 0.42
0.569 0.452 0.60
0.511 0.502 0.55
0.524 0.452 0.62
0.550 0.502 0.60
0.401 0.482 0.47
0.388 0.472 0.62
0.066 0.452 0.47
0.111 0.429 0.55
0.147 0.393 0.43
0.182 0.482 0.60
0.221 0.492 0.62
0.275 0.452 0.80
0.234 0.472 0.72
0.244 0.423 0.55
0.188 0.423 0.65
0.214 0.383 0.55
0.205 0.357 0.60
0.182 0.323 0.50
0.114 0.349 0.66
0.125 0.333 0.55
0.137 0.313 0.55
0.154 0.327 0.42
0.034 0.287 0.64
0.079 0.229 0.55
0.111 0.163 0.55
0.175 0.237 0.66
0.197 0.223 0.55
0.221 0.223 0.60
0.208 0.203 0.58
0.227 0.159 0.55
0.268 0.293 0.60
0.292 0.343 0.45
0.314 0.383 0.42
0.285 0.303 0.55
0.305 0.263 0.42
0.298 0.243 0.78
0.324 0.233 0.55
0.343 0.223 0.60
0.311 0.183 0.62
0.270 0.203 0.60
0.375 0.253 0.55
0.408 0.223 0.72
0.382 0.153 0.42
0.369 0.153 0.65
0.408 0.153 0.65
0.437 0.253 0.78
0.489 0.263 0.78
0.479 0.203 0.72
0.502 0.303 0.70
0.517 0.333 0.55
0.543 0.333 0.50
0.569 0.323 0.60
0.601 0.277 0.65
0.617 0.247 0.65
0.636 0.233 0.42
0.653 0.233 0.62
0.627 0.313 0.68
0.640 0.333 0.66
0.505 0.193 0.62
0.530 0.193 0.55
0.556 0.193 0.50
0.550 0.114 0.45
0.563 0.124 0.42
0.621 0.159 0.43
0.588 0.094 0.68
0.617 0.084 0.72
0.517 0.134 0.72
0.511 0.094 0.55
0.472 0.084 0.78
0.446 0.114 0.42
0.453 0.163 0.45
0.414 0.104 0.55
0.395 0.104 0.55
0.388 0.024 0.55
0.459 0.060 0.60
0.197 0.124 0.42
0.240 0.080 0.42
0.201 0.114 0.70
0.208 0.054 0.60
0.221 0.044 0.55
0.137 0.044 0.70
0.279 0.114 0.66
0.305 0.090 0.78
0.285 0.064 0.70
0.324 0.104 0.60
0.350 0.098 0.58
0.266 0.014 0.72
0.305 0.034 0.62
0.330 0.024 0.55
0.395 0.064 0.58
0.440 0.024 0.55
0.498 0.040 0.72
0.543 0.044 0.62
0.621 0.034 0.55
0.666 0.028 0.42
0.685 0.034 0.42
0.685 0.104 0.60
0.724 0.104 0.45
0.711 0.084 0.60
0.717 0.159 0.55
0.711 0.243 0.72
0.705 0.343 0.41
0.711 0.253 0.50
0.724 0.243 0.70
0.730 0.486 0.72
0.743 0.213 0.52
0.756 0.253 0.65
0.782 0.253 0.45
0.795 0.462 0.55
0.756 0.183 0.60
0.782 0.183 0.55
0.769 0.064 0.43
0.795 0.054 0.58
0.737 0.074 0.60
0.692 0.153 0.62
0.679 0.712 0.45
0.692 0.712 0.55
0.717 0.718 0.60
0.730 0.712 0.55
0.747 0.708 0.55
0.791 0.728 0.42
0.653 0.702 0.41
0.937 1.359 0.60
1.050 1.369 0.58
1.180 1.325 0.60
1.218 1.248 0.42
1.072 1.276 0.50
0.998 1.266 0.66
0.906 1.220 0.55
0.943 1.060 0.76
0.911 1.025 0.68
0.976 1.027 0.52
0.943 1.015 0.58
0.946 0.969 0.45
0.921 0.909 0.42
1.146 1.060 0.50
1.150 0.925 0.42
1.217 0.917 0.45
1.059 0.841 0.62
1.120 0.781 0.47
1.421 0.791 0.55
1.320 0.745 0.60
0.888 0.811 0.46
0.915 0.777 0.60
0.943 0.745 0.72
0.843 0.797 0.58
0.824 0.761 0.66
0.791 0.731 0.43
0.804 0.712 0.64
0.830 0.676 0.72
0.929 0.666 0.48
1.049 0.702 0.58
0.986 0.582 0.52
0.954 0.562 0.62
0.823 0.582 0.75
0.863 0.546 0.43
0.775 0.588 0.65
0.769 0.562 0.45
0.827 0.502 0.60
1.178 0.522 0.47
1.356 0.608 0.60
1.359 0.472 0.40
1.523 0.476 0.62
1.653 0.708 0.40
1.253 0.423 0.66
1.298 0.432 0.55
0.937 0.452 0.44
0.924 0.427 0.60
0.892 0.415 0.68
0.850 0.411 0.80
0.782 0.462 0.55
0.814 0.379 0.58
1.027 0.383 0.55
1.085 0.407 0.50
1.225 0.379 0.45
0.975 0.403 0.55
0.982 0.359 0.55
0.992 0.327 0.62
0.799 0.303 0.72
0.853 0.283 0.44
0.876 0.243 0.75
0.992 0.253 0.45
0.917 0.227 0.60
0.853 0.219 0.74
0.853 0.193 0.74
0.872 0.179 0.66
0.891 0.179 0.68
0.778 0.183 0.70
1.310 0.271 0.60
1.176 0.167 0.45
1.346 0.151 0.60
1.214 0.104 0.42
0.985 0.140 0.41
0.817 0.104 0.65
0.836 0.108 0.72
0.982 0.094 0.60
0.976 0.064 0.55
0.901 0.074 0.68
0.908 0.060 0.68
0.846 0.060 0.55
0.866 0.040 0.60
0.773 0.064 0.42
0.792 0.054 0.62
1.018 0.054 0.45
1.095 0.044 0.62
0.915 0.004 0.42
0.937 0.010 0.62
1.008 0.004 0.60
0.853 0.010 0.55
0.110 0.433 0.55
0.213 0.472 0.55
0.226 0.442 0.58
0.239 0.472 0.60
0.206 0.363 0.60
0.232 0.367 0.55
0.277 0.458 0.80
0.338 0.393 0.58
0.329 0.313 0.60
0.129 0.313 0.58
0.123 0.333 0.55
0.139 0.303 0.55
0.155 0.333 0.42
0.187 0.323 0.43
0.191 0.293 0.55
0.181 0.273 0.60
0.080 0.229 0.55
0.110 0.163 0.55
0.174 0.237 0.66
0.200 0.213 0.55
0.226 0.223 0.60
0.213 0.203 0.60
0.226 0.159 0.55
0.194 0.124 0.42
0.206 0.114 0.72
0.241 0.080 0.42
0.252 0.114 0.72
0.267 0.124 0.72
0.303 0.199 0.60
0.290 0.313 0.60
0.316 0.313 0.55
0.310 0.283 0.55
0.297 0.243 0.80
0.299 0.273 0.42
0.342 0.223 0.60
0.329 0.233 0.60
0.374 0.253 0.60
0.387 0.283 0.60
0.439 0.253 0.80
0.488 0.263 0.80
0.406 0.213 0.72
0.477 0.203 0.72
0.475 0.163 0.72
0.374 0.153 0.42
0.387 0.153 0.65
0.410 0.163 0.55
0.452 0.163 0.55
0.445 0.133 0.50
0.439 0.104 0.55
0.381 0.114 0.55
0.342 0.094 0.60
0.320 0.124 0.58
0.290 0.084 0.55
0.303 0.094 0.75
0.206 0.064 0.55
0.222 0.040 0.58
0.135 0.044 0.70
0.381 0.064 0.55
0.394 0.040 0.60
0.445 0.074 0.60
0.471 0.084 0.78
0.510 0.143 0.72
0.516 0.114 0.72
0.497 0.094 0.55
0.529 0.193 0.60
0.559 0.193 0.55
0.559 0.124 0.45
0.626 0.163 0.43
0.606 0.183 0.60
0.613 0.243 0.72
0.632 0.233 0.45
0.652 0.243 0.62
0.632 0.333 0.62
0.645 0.353 0.66
0.606 0.363 0.60
0.555 0.273 0.68
0.535 0.293 0.50
0.426 0.383 0.55
0.400 0.373 0.55
0.419 0.363 0.55
0.445 0.393 0.60
0.458 0.442 0.55
0.432 0.438 0.55
0.400 0.433 0.60
0.523 0.403 0.62
0.516 0.452 0.62
0.555 0.482 0.60
0.594 0.442 0.43
0.613 0.423 0.60
0.703 0.343 0.41
0.723 0.243 0.75
0.748 0.193 0.66
0.555 0.074 0.60
0.587 0.094 0.62
0.619 0.074 0.62
0.568 0.024 0.55
0.658 0.024 0.42
0.684 0.094 0.60
0.723 0.104 0.45
0.684 0.034 0.60
0.529 0.024 0.55
0.497 0.024 0.60
0.445 0.024 0.55
0.381 0.014 0.60
0.265 0.014 0.60
}\scatterD

% binned means: R, A, +err, -err
\pgfplotstableread{
R A ep em
0.07 0.089 0.013 0.012
0.17 0.042 0.004 0.004
0.27 0.048 0.004 0.004
0.37 0.052 0.005 0.005
0.47 0.046 0.004 0.004
0.57 0.046 0.005 0.005
0.67 0.063 0.006 0.006
0.77 0.075 0.006 0.006
0.87 0.067 0.005 0.006
0.97 0.063 0.005 0.004
1.07 0.084 0.043 0.043
1.17 0.126 0.020 0.020
1.27 0.048 0.017 0.016
1.37 0.068 0.052 0.052
}\binsA

\pgfplotstableread{
R A ep em
0.07 0.130 0.035 0.035
0.17 0.079 0.012 0.012
0.27 0.089 0.012 0.012
0.37 0.070 0.012 0.012
0.47 0.092 0.012 0.012
0.57 0.051 0.012 0.012
0.67 0.070 0.012 0.012
0.77 0.133 0.012 0.012
0.87 0.105 0.008 0.011
0.97 0.073 0.010 0.010
1.07 0.163 0.089 0.091
1.17 0.128 0.017 0.018
1.27 0.095 0.043 0.040
1.37 0.106 0.031 0.032
}\binsB

\pgfplotstableread{
R A ep em
0.07 0.427 0.076 0.078
0.17 0.174 0.022 0.022
0.27 0.174 0.020 0.020
0.37 0.180 0.020 0.020
0.47 0.120 0.020 0.020
0.57 0.171 0.020 0.020
0.67 0.149 0.020 0.020
0.77 0.218 0.022 0.022
0.87 0.200 0.025 0.024
0.97 0.144 0.016 0.017
1.07 0.318 0.182 0.185
1.17 0.359 0.059 0.059
1.27 0.244 0.286 0.400
1.37 0.174 0.082 0.077
}\binsC

\pgfplotstableread{
R A ep em
0.07 0.578 0.070 0.072
0.17 0.429 0.040 0.040
0.27 0.383 0.040 0.040
0.37 0.303 0.040 0.040
0.47 0.353 0.040 0.040
0.57 0.393 0.040 0.040
0.67 0.429 0.033 0.032
0.77 0.379 0.040 0.040
0.87 0.329 0.044 0.042
0.97 0.429 0.039 0.042
1.07 0.741 0.164 0.165
1.17 1.060 0.168 0.169
1.27 0.423 0.727 0.800
1.37 0.542 0.160 0.159
}\binsD

\pgfplotsset{
  colormap={bluered}{rgb255=(0,0,255) rgb255=(255,0,0)},
  panel/.style={
    scale only axis,
    anchor=south west,
    xmin=0, xmax=1.8,
    xtick={0.25,0.5,0.75,1,1.25,1.5,1.75},
    xticklabels={0.25,0.50,0.75,1.00,1.25,1.50,1.75},
    minor x tick num=4,
    xlabel={R [Mpc]},
    ymin=0,
    axis on top,
    axis line style={line width=1.5pt},
    major tick length=3pt,
    minor tick length=1.6pt,
    every tick/.style={black,line width=0.55pt},
    minor tick style={black,line width=0.55pt},
    tick label style={font=\lblfont},
    label style={font=\lblfont},
    xlabel style={yshift=2.5pt},
    ylabel style={yshift=-4.5pt,font=\fontsize{13}{15}\selectfont},
    xticklabel style={yshift=-0.5pt},
    point meta min=0.4, point meta max=0.8,
    colorbar horizontal,
  },
  cbar/.style={
    scale only axis,
    at={(parent axis.south west)},
    anchor=north west,
    yshift=-#1,
    height=12pt,
    xtick={0.4,0.5,0.6,0.7,0.8},
    xticklabels={0.4,0.5,0.6,0.7,0.8},
    xtick pos=lower,
    tick align=outside,
    major tick length=2.5pt,
    axis line style={line width=1.5pt},
    every tick/.style={black,line width=0.55pt},
    tick label style={font=\lblfont},
    label style={font=\lblfont},
    xlabel={g − r [mag]},
    xlabel style={yshift=0pt},
  },
  pts/.style={
    scatter, only marks, scatter src=explicit,
    mark=*, mark size=1.8pt,
    scatter/use mapped color={draw=mapped color,fill=mapped color},
  },
  vline/.style={dline, line width=1pt, dash pattern=on 4pt off 1.4pt},
  bins/.style={
    black, line width=1.5pt, mark=diamond*, mark size=3.1pt,
    mark options={solid,fill=black,line width=0.3pt},
    error bars/.cd, y dir=both, y explicit,
    error bar style={line width=1.4pt},
    error mark options={rotate=90,mark size=3.75pt,line width=1.4pt},
  },
}

\begin{document}
\begin{tikzpicture}
\path[use as bounding box] (0,0) rectangle (600pt,421.5pt);

\begin{axis}[panel, at={(35.5pt,289pt)}, width=232.5pt, height=122.5pt,
    ymax=0.2, ytick={0,0.1,0.2}, yticklabels={0.0,0.1,0.2}, minor y tick num=4,
    ylabel={\textit{A}\textsubscript{26}},
    colorbar style={cbar=17.5pt, width=232.5pt}]
\addplot[pts] table[x=R,y=A,meta=c] {\scatterA};
\addplot[vline] coordinates {(0.7,0) (0.7,0.2)};
\addplot[bins] table[x=R,y=A,y error plus=ep,y error minus=em] {\binsA};
\end{axis}

\begin{axis}[panel, at={(361pt,289.5pt)}, width=230pt, height=126pt,
    ymax=0.5, ytick={0,0.15,0.3,0.45}, yticklabels={0.00,0.15,0.30,0.45}, minor y tick num=3,
    ylabel={\textit{A}\textsubscript{27}},
    colorbar style={cbar=17.5pt, width=230pt}]
\addplot[pts] table[x=R,y=A,meta=c] {\scatterB};
\addplot[vline] coordinates {(0.7,0) (0.7,0.5)};
\addplot[bins] table[x=R,y=A,y error plus=ep,y error minus=em] {\binsB};
\end{axis}

\begin{axis}[panel, at={(35.5pt,68.5pt)}, width=232.5pt, height=122.5pt,
    ymax=0.8, ytick={0,0.2,0.4,0.6,0.8}, yticklabels={0.0,0.2,0.4,0.6,0.8}, minor y tick num=3,
    ylabel={\textit{A}\textsubscript{28}},
    colorbar style={cbar=17.5pt, width=232.5pt}]
\addplot[pts] table[x=R,y=A,meta=c] {\scatterC};
\addplot[vline] coordinates {(0.7,0) (0.7,0.8)};
\addplot[bins] table[x=R,y=A,y error plus=ep,y error minus=em] {\binsC};
\end{axis}

\begin{axis}[panel, at={(356.5pt,69.5pt)}, width=232.5pt, height=125.5pt,
    ymax=1.5, ytick={0,0.4,0.8,1.2}, yticklabels={0.0,0.4,0.8,1.2}, minor y tick num=3,
    ylabel={\textit{A}\textsubscript{29}},
    colorbar style={cbar=19pt, width=232.5pt}]
\addplot[pts] table[x=R,y=A,meta=c] {\scatterD};
\addplot[vline] coordinates {(0.7,0) (0.7,1.5)};
\addplot[bins] table[x=R,y=A,y error plus=ep,y error minus=em] {\binsD};
\end{axis}
\end{tikzpicture}
\end{document}
